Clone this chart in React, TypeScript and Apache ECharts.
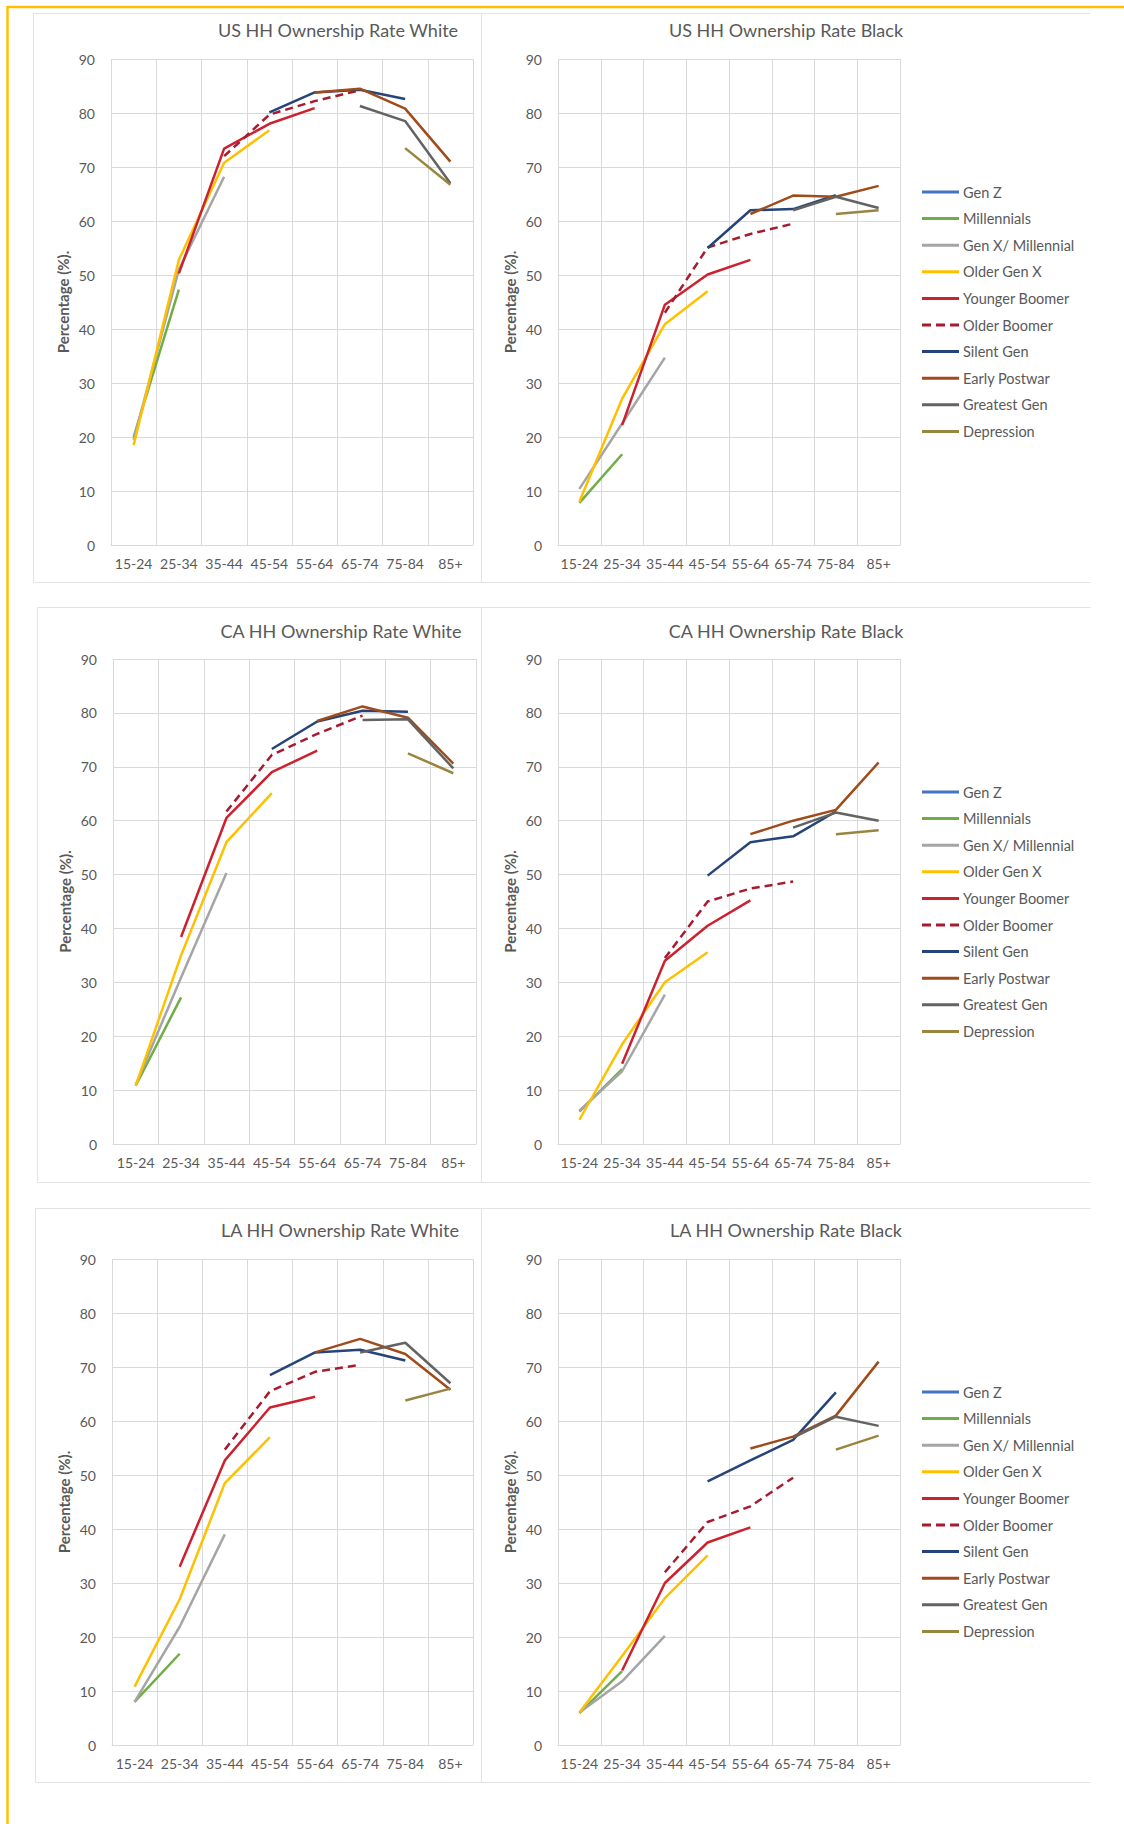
import React, { useEffect, useRef } from "react";
import * as echarts from "echarts";

const _ = null;

const AGE_GROUPS = ["15-24", "25-34", "35-44", "45-54", "55-64", "65-74", "75-84", "85+"];
const GENERATIONS = [
  "Gen Z",
  "Millennials",
  "Gen X/ Millennial",
  "Older Gen X",
  "Younger Boomer",
  "Older Boomer",
  "Silent Gen",
  "Early Postwar",
  "Greatest Gen",
  "Depression",
];
const GEN_COLORS = [
  "#4472C4",
  "#70AD47",
  "#A5A5A5",
  "#FFC000",
  "#CC2230",
  "#A61C2E",
  "#264478",
  "#A04B1A",
  "#636363",
  "#9A8540",
];
const DASHED_GEN = "Older Boomer";
const Y_MIN = 0;
const Y_MAX = 90;
const Y_STEP = 10;

const PANEL_TITLES = [
  "US HH Ownership Rate White",
  "US HH Ownership Rate Black",
  "CA HH Ownership Rate White",
  "CA HH Ownership Rate Black",
  "LA HH Ownership Rate White",
  "LA HH Ownership Rate Black",
];
const Y_AXIS_NAME = "Percentage (%).";

// rows follow GENERATIONS order; columns follow AGE_GROUPS
const US_WHITE = [
  [_, _, _, _, _, _, _, _],
  [20, 47.3, _, _, _, _, _, _],
  [19.5, 51, 68.2, _, _, _, _, _],
  [18.5, 52.8, 70.8, 76.8, _, _, _, _],
  [_, 50.3, 73.4, 78, 80.9, _, _, _],
  [_, _, 72, 79.7, 82.2, 84.2, _, _],
  [_, _, _, 80.1, 83.8, 84.3, 82.6, _],
  [_, _, _, _, 83.8, 84.5, 80.8, 71],
  [_, _, _, _, _, 81.3, 78.5, 67],
  [_, _, _, _, _, _, 73.5, 66.7],
];
const US_BLACK = [
  [_, _, _, _, _, _, _, _],
  [7.8, 16.8, _, _, _, _, _, _],
  [10.4, 22.5, 34.7, _, _, _, _, _],
  [8, 27.1, 40.9, 47, _, _, _, _],
  [_, 22.2, 44.5, 50.1, 52.8, _, _, _],
  [_, _, 43, 55.1, 57.6, 59.5, _, _],
  [_, _, _, 55, 62, 62.2, 64.8, _],
  [_, _, _, _, 61.3, 64.7, 64.5, 66.5],
  [_, _, _, _, _, 62, 64.5, 62.4],
  [_, _, _, _, _, _, 61.3, 62],
];
const CA_WHITE = [
  [_, _, _, _, _, _, _, _],
  [10.8, 27.2, _, _, _, _, _, _],
  [11, 30.9, 50.3, _, _, _, _, _],
  [10.8, 35, 56, 65.1, _, _, _, _],
  [_, 38.4, 60.5, 69, 73, _, _, _],
  [_, _, 61.7, 72.2, 76.1, 79.5, _, _],
  [_, _, _, 73.3, 78.4, 80.4, 80.2, _],
  [_, _, _, _, 78.5, 81.2, 79.1, 70.6],
  [_, _, _, _, _, 78.7, 78.8, 69.7],
  [_, _, _, _, _, _, 72.5, 68.8],
];
const CA_BLACK = [
  [_, _, _, _, _, _, _, _],
  [6, 13.9, _, _, _, _, _, _],
  [6.2, 13.5, 27.7, _, _, _, _, _],
  [4.5, 18.5, 30, 35.6, _, _, _, _],
  [_, 14.9, 34, 40.5, 45.2, _, _, _],
  [_, _, 34.5, 45, 47.4, 48.7, _, _],
  [_, _, _, 49.8, 56, 57.1, 61.7, _],
  [_, _, _, _, 57.5, 60, 62, 70.8],
  [_, _, _, _, _, 58.7, 61.5, 60],
  [_, _, _, _, _, _, 57.5, 58.2],
];
const LA_WHITE = [
  [_, _, _, _, _, _, _, _],
  [8, 16.9, _, _, _, _, _, _],
  [8, 21.9, 39, _, _, _, _, _],
  [10.8, 27, 48.5, 57, _, _, _, _],
  [_, 33, 52.7, 62.5, 64.5, _, _, _],
  [_, _, 54.7, 65.5, 69.1, 70.4, _, _],
  [_, _, _, 68.5, 72.7, 73.2, 71.2, _],
  [_, _, _, _, 72.7, 75.2, 72.4, 65.8],
  [_, _, _, _, _, 72.7, 74.5, 67],
  [_, _, _, _, _, _, 63.8, 66],
];
const LA_BLACK = [
  [_, _, _, _, _, _, _, _],
  [5.9, 13.7, _, _, _, _, _, _],
  [6, 11.8, 20.2, _, _, _, _, _],
  [6, 16.5, 27.2, 35.1, _, _, _, _],
  [_, 13.8, 30, 37.5, 40.3, _, _, _],
  [_, _, 32, 41.3, 44.2, 49.5, _, _],
  [_, _, _, 48.8, 52.7, 56.5, 65.3, _],
  [_, _, _, _, 54.9, 57.1, 61, 71],
  [_, _, _, _, _, 56.9, 60.8, 59.1],
  [_, _, _, _, _, _, 54.7, 57.3],
];

const PANEL_DATA = [US_WHITE, US_BLACK, CA_WHITE, CA_BLACK, LA_WHITE, LA_BLACK];

// layout (pixels)
const GRIDS = [
  { left: 111, top: 59, width: 362, height: 486 },
  { left: 558, top: 59, width: 342, height: 486 },
  { left: 113, top: 659, width: 363, height: 485 },
  { left: 558, top: 659, width: 342, height: 485 },
  { left: 112, top: 1259, width: 361, height: 486 },
  { left: 558, top: 1259, width: 342, height: 486 },
];
const TITLE_POS = [
  [338, 30],
  [786, 30],
  [341, 631],
  [786, 631],
  [340, 1230],
  [786, 1230],
];
const PANEL_BOXES = [
  { x: 33, y: 13, w: 448, h: 569, right: false },
  { x: 481, y: 13, w: 609, h: 569, right: true },
  { x: 37, y: 607, w: 444, h: 575, right: false },
  { x: 481, y: 607, w: 609, h: 575, right: true },
  { x: 35, y: 1208, w: 446, h: 574, right: false },
  { x: 481, y: 1208, w: 609, h: 574, right: true },
];
const LEGEND_TOPS = [184, 784, 1384];

const FONT = "Lato, 'Open Sans', sans-serif";
const TEXT_COLOR = "#595959";
const GRID_COLOR = "#D9D9D9";
const BOX_COLOR = "#E3E3E3";

const SOLID_ICON = "path://M0,0H37V3H0Z";
const DASH_ICON = "path://M0,0H9V3H0Z M14,0H23V3H14Z M28,0H37V3H28Z";

export default function App() {
  const ref = useRef<HTMLDivElement>(null);

  useEffect(() => {
    if (!ref.current) return;
    const chart = echarts.init(ref.current, undefined, { renderer: "svg" });

    const grid = GRIDS.map((g) => ({ ...g, containLabel: false }));

    const xAxis = GRIDS.map((_g, i) => ({
      type: "category",
      gridIndex: i,
      data: AGE_GROUPS,
      boundaryGap: true,
      axisLine: { show: true, lineStyle: { color: GRID_COLOR, width: 1 } },
      axisTick: { show: false },
      axisLabel: { color: TEXT_COLOR, fontSize: 14, fontFamily: FONT, margin: 11, interval: 0 },
      splitLine: { show: true, lineStyle: { color: GRID_COLOR, width: 1 } },
    }));

    const yAxis = GRIDS.map((_g, i) => ({
      type: "value",
      gridIndex: i,
      min: Y_MIN,
      max: Y_MAX,
      interval: Y_STEP,
      name: Y_AXIS_NAME,
      nameLocation: "middle",
      nameGap: 41,
      nameRotate: 90,
      nameTextStyle: { color: TEXT_COLOR, fontSize: 15, fontWeight: "bold", fontFamily: FONT },
      axisLine: { show: false },
      axisTick: { show: false },
      axisLabel: { color: TEXT_COLOR, fontSize: 14, fontFamily: FONT, margin: 16 },
      splitLine: { show: true, lineStyle: { color: GRID_COLOR, width: 1 } },
    }));

    const title = PANEL_TITLES.map((t, i) => ({
      text: t,
      left: TITLE_POS[i][0],
      top: TITLE_POS[i][1],
      textAlign: "center",
      textVerticalAlign: "middle",
      padding: 0,
      textStyle: { color: TEXT_COLOR, fontSize: 18, fontWeight: "normal", fontFamily: FONT },
    }));

    const series: any[] = [];
    PANEL_DATA.forEach((panel, p) => {
      panel.forEach((values, g) => {
        const dashed = GENERATIONS[g] === DASHED_GEN;
        series.push({
          type: "line",
          name: GENERATIONS[g],
          xAxisIndex: p,
          yAxisIndex: p,
          data: values,
          symbol: "none",
          connectNulls: false,
          silent: true,
          color: GEN_COLORS[g],
          itemStyle: { color: GEN_COLORS[g] },
          lineStyle: { color: GEN_COLORS[g], width: 2.5, type: dashed ? [8, 5] : "solid" },
        });
      });
    });

    const legendData = GENERATIONS.map((n) => ({
      name: n,
      icon: n === DASHED_GEN ? DASH_ICON : SOLID_ICON,
    }));

    const legend = LEGEND_TOPS.map((top) => ({
      data: legendData,
      orient: "vertical",
      left: 922,
      top,
      padding: 0,
      itemWidth: 37,
      itemHeight: 3,
      itemGap: 10.6,
      selectedMode: false,
      itemStyle: { borderWidth: 0 },
      textStyle: { color: TEXT_COLOR, fontSize: 14.5, fontFamily: FONT, lineHeight: 16, padding: [0, 0, 0, -1] },
    }));

    const graphic: any[] = [];
    PANEL_BOXES.forEach((b) => {
      const x0 = b.x + 0.5;
      const y0 = b.y + 0.5;
      const x1 = b.x + b.w + 0.5;
      const y1 = b.y + b.h + 0.5;
      const segs = b.right
        ? [
            [x0, y0, x1, y0],
            [x0, y1, x1, y1],
          ]
        : [
            [x0, y0, x1, y0],
            [x0, y1, x1, y1],
            [x0, y0, x0, y1],
            [x1, y0, x1, y1],
          ];
      segs.forEach((s) => {
        graphic.push({
          type: "line",
          shape: { x1: s[0], y1: s[1], x2: s[2], y2: s[3] },
          style: { stroke: BOX_COLOR, lineWidth: 1 },
          silent: true,
          z: -10,
        });
      });
    });
    graphic.push({
      type: "line",
      shape: { x1: 7.5, y1: 7, x2: 1124, y2: 7 },
      style: { stroke: "#FFC000", lineWidth: 2.5 },
      silent: true,
    });
    graphic.push({
      type: "line",
      shape: { x1: 7.5, y1: 6, x2: 7.5, y2: 1824 },
      style: { stroke: "#FFC000", lineWidth: 2.5 },
      silent: true,
    });

    chart.setOption({
      animation: false,
      backgroundColor: "#FFFFFF",
      textStyle: { fontFamily: FONT },
      title,
      grid,
      xAxis,
      yAxis,
      legend,
      series,
      graphic,
    });

    return () => {
      chart.dispose();
    };
  }, []);

  return (
    <div
      ref={ref}
      style={{ position: "absolute", left: 0, top: 0, width: 1124, height: 1824 }}
    />
  );
}
